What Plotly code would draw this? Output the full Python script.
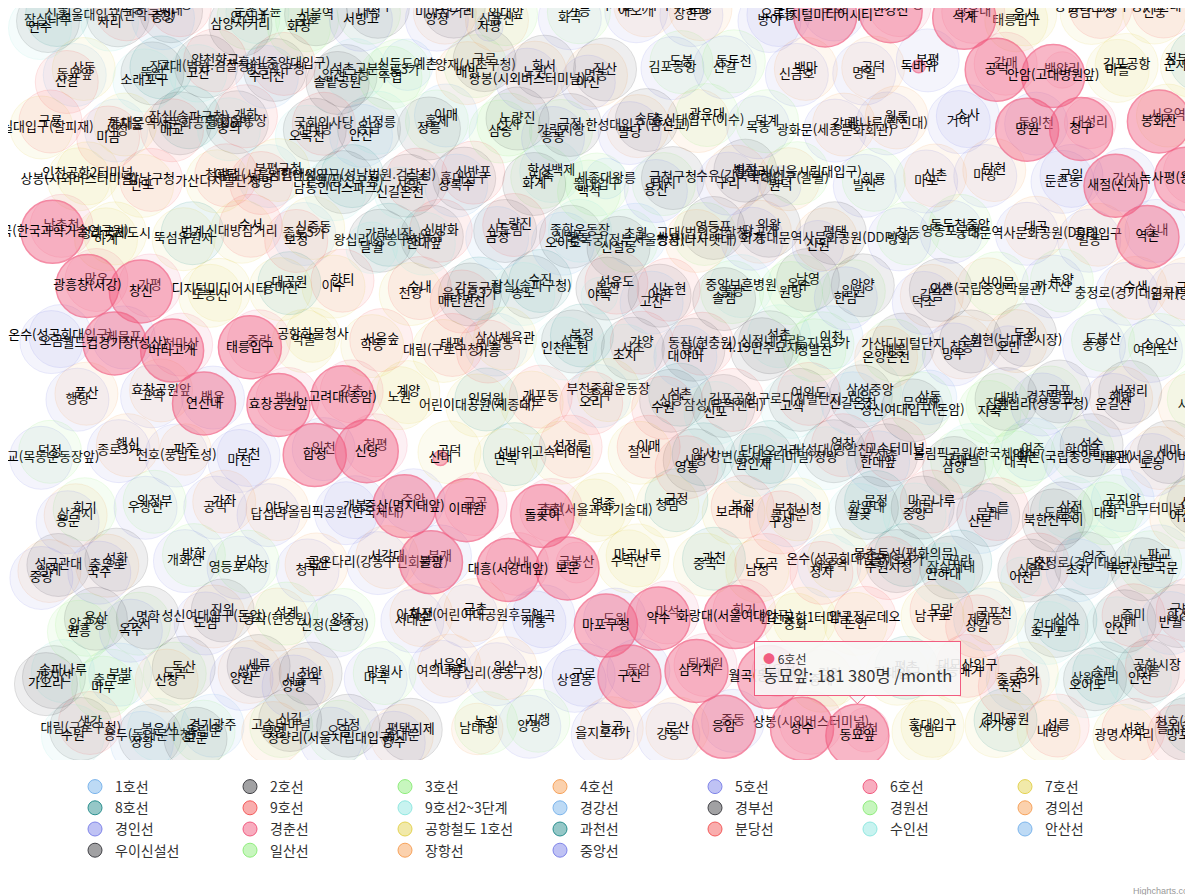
import math
import plotly.graph_objects as go

# monthly riders per station, in thousands of persons
L1 = [("서울역", 1580), ("시청", 690), ("종각", 1210), ("종로3가", 920), ("종로5가", 820), ("동대문", 410),
      ("동묘앞", 240), ("신설동", 470), ("제기동", 720), ("청량리(서울시립대입구)", 840)]
L2 = [("시청", 780), ("을지로입구", 1650), ("을지로3가", 980), ("을지로4가", 450), ("동대문역사문화공원(DDP)", 620),
      ("신당", 720), ("상왕십리", 520), ("왕십리(성동구청)", 930), ("한양대", 720), ("뚝섬", 630), ("성수", 1150),
      ("건대입구", 1580), ("구의(광진구청)", 860), ("강변(동서울터미널)", 1240), ("잠실나루", 520), ("잠실(송파구청)", 1920),
      ("잠실새내", 1120), ("종합운동장", 560), ("삼성(무역센터)", 1890), ("선릉", 1620), ("역삼", 1680), ("강남", 2780),
      ("교대(법원.검찰청)", 1210), ("서초", 880), ("방배", 780), ("사당", 1380), ("낙성대(강감찬)", 980),
      ("서울대입구(관악구청)", 1590), ("봉천", 860), ("신림", 1760), ("신대방", 610), ("구로디지털단지", 1490),
      ("대림(구로구청)", 620), ("신도림", 1320), ("문래", 560), ("영등포구청", 820), ("당산", 1050), ("합정", 1120),
      ("홍대입구", 2330), ("신촌", 1570), ("이대", 780), ("아현", 560), ("충정로(경기대입구)", 540), ("용답", 190),
      ("신답", 120), ("용두(동대문구청)", 290), ("신설동", 160), ("도림천", 110), ("양천구청", 330),
      ("신정네거리", 450), ("까치산", 380)]
L3 = [("지축", 95), ("구파발", 420), ("연신내", 680), ("불광", 520), ("녹번", 380), ("홍제", 620), ("무악재", 310),
      ("독립문", 390), ("경복궁(정부서울청사)", 620), ("안국", 690), ("종로3가", 560), ("을지로3가", 410), ("충무로", 480),
      ("동대입구", 320), ("약수", 260), ("금호", 250), ("옥수", 280), ("압구정", 880), ("신사", 980), ("잠원", 280),
      ("고속터미널", 1450), ("교대(법원.검찰청)", 640), ("남부터미널(예술의전당)", 830), ("양재(서초구청)", 1290),
      ("매봉", 480), ("도곡", 420), ("대치", 450), ("학여울", 180), ("대청", 300), ("일원", 330), ("수서", 760),
      ("가락시장", 380), ("경찰병원", 230), ("오금", 290)]
L4 = [("당고개", 300), ("상계", 380), ("노원", 820), ("창동", 560), ("쌍문", 700), ("수유(강북구청)", 1080),
      ("미아(서울사이버대학)", 620), ("미아사거리", 880), ("길음", 820), ("성신여대입구(돈암)", 980),
      ("한성대입구(삼선교)", 680), ("혜화", 1120), ("동대문", 420), ("동대문역사문화공원(DDP)", 390), ("충무로", 520),
      ("명동", 1180), ("회현(남대문시장)", 820), ("서울역", 640), ("숙대입구(갈월)", 520), ("삼각지", 240),
      ("신용산", 380), ("이촌(국립중앙박물관)", 280), ("동작(현충원)", 90), ("총신대입구(이수)", 760), ("사당", 880),
      ("남태령", 40)]
L5 = [("방화", 420), ("개화산", 350), ("김포공항", 320), ("송정", 380), ("마곡", 390), ("발산", 680), ("우장산", 520),
      ("화곡", 980), ("까치산", 640), ("신정(은행정)", 400), ("목동", 620), ("오목교(목동운동장앞)", 790), ("양평", 260),
      ("영등포구청", 420), ("영등포시장", 450), ("신길", 140), ("여의도", 1240), ("여의나루", 580), ("마포", 480),
      ("공덕", 560), ("애오개", 300), ("충정로(경기대입구)", 320), ("서대문", 560), ("광화문(세종문화회관)", 1320),
      ("종로3가", 380), ("을지로4가", 300), ("동대문역사문화공원(DDP)", 320), ("청구", 210), ("신금호", 290),
      ("행당", 330), ("왕십리(성동구청)", 520), ("마장", 230), ("답십리", 440), ("장한평", 480), ("군자(능동)", 320),
      ("아차산(어린이대공원후문)", 480), ("광나루(장신대)", 390), ("천호(풍납토성)", 760), ("강동", 500), ("길동", 370),
      ("굽은다리(강동구민회관앞)", 330), ("명일", 420), ("고덕", 450), ("상일동", 380), ("둔촌동", 230),
      ("올림픽공원(한국체대)", 300), ("방이", 380), ("오금", 220), ("개롱", 240), ("거여", 380), ("마천", 360)]
L6 = [("응암", 520), ("역촌", 240), ("불광", 280), ("독바위", 2.5), ("연신내", 330), ("구산", 230), ("새절(신사)", 220),
      ("증산(명지대앞)", 250), ("디지털미디어시티", 360), ("월드컵경기장(성산)", 320), ("마포구청", 300), ("망원", 490),
      ("합정", 470), ("상수", 420), ("광흥창(서강)", 290), ("대흥(서강대앞)", 270), ("공덕", 340), ("효창공원앞", 170),
      ("삼각지", 210), ("녹사평(용산구청)", 170), ("이태원", 480), ("한강진", 250), ("버티고개", 130), ("약수", 260),
      ("청구", 150), ("신당", 260), ("동묘앞", 181.38), ("창신", 230), ("보문", 170), ("안암(고대병원앞)", 390),
      ("고려대(종암)", 340), ("월곡(동덕여대)", 350), ("상월곡(한국과학기술연구원)", 220), ("돌곶이", 350),
      ("석계", 260), ("태릉입구", 210), ("화랑대(서울여대입구)", 240), ("봉화산", 280), ("신내", 3.2)]
L7 = [("장암", 60), ("도봉산", 310), ("수락산", 420), ("마들", 380), ("노원", 620), ("중계", 390), ("하계", 370),
      ("공릉(서울과학기술대)", 480), ("태릉입구", 270), ("먹골", 380), ("중화", 300), ("상봉(시외버스터미널)", 420),
      ("면목", 560), ("사가정", 380), ("용마산", 330), ("중곡", 360), ("군자(능동)", 450), ("어린이대공원(세종대)", 480),
      ("건대입구", 620), ("뚝섬유원지", 350), ("청담", 380), ("강남구청", 450), ("학동", 480), ("논현", 520),
      ("반포", 380), ("고속터미널", 980), ("내방", 360), ("이수", 580), ("남성", 420), ("숭실대입구(살피재)", 560),
      ("상도", 480), ("장승배기", 380), ("신대방삼거리", 420), ("보라매", 380), ("신풍", 300), ("대림(구로구청)", 320),
      ("남구로", 450), ("가산디지털단지", 1050), ("철산", 620), ("광명사거리", 560), ("천왕", 210),
      ("온수(성공회대입구)", 250), ("까치울", 130), ("부천종합운동장", 140), ("춘의", 220), ("신중동", 350),
      ("부천시청", 420), ("상동", 380), ("삼산체육관", 260), ("굴포천", 240), ("부평구청", 320)]
L8 = [("암사", 480), ("천호(풍납토성)", 520), ("강동구청", 360), ("몽촌토성(평화의문)", 230), ("잠실(송파구청)", 880),
      ("석촌", 380), ("송파", 410), ("가락시장", 290), ("문정", 390), ("장지", 420), ("복정", 180), ("산성", 250),
      ("남한산성입구(성남법원.검찰청)", 340), ("단대오거리", 420), ("신흥", 290), ("수진", 310), ("모란", 330)]
L9 = [("개화", 150), ("김포공항", 580), ("공항시장", 180), ("신방화", 240), ("마곡나루", 580), ("양천향교", 260),
      ("가양", 650), ("증미", 300), ("등촌", 350), ("염창", 420), ("신목동", 230), ("선유도", 350), ("당산", 480),
      ("국회의사당", 520), ("여의도", 880), ("샛강", 250), ("노량진", 620), ("노들", 150), ("흑석(중앙대입구)", 640),
      ("동작(현충원)", 150), ("구반포", 210), ("신반포", 260), ("고속터미널", 890), ("사평", 140), ("신논현", 920)]
L9B = [("언주", 380), ("선정릉", 420), ("삼성중앙", 450), ("봉은사", 520), ("종합운동장", 330), ("삼전", 240),
       ("석촌고분", 260), ("석촌", 420), ("송파나루", 280), ("한성백제", 270), ("올림픽공원(한국체대)", 320),
       ("둔촌오륜", 180), ("중앙보훈병원", 250)]
GYEONGGANG = [("판교", 380), ("이매", 220), ("삼동", 45), ("경기광주", 210), ("초월", 90), ("곤지암", 80),
              ("신둔도예촌", 40), ("이천", 110), ("부발", 70), ("세종대왕릉", 25), ("여주", 80)]
GYEONGBU = [("서울역", 520), ("남영", 230), ("용산", 890), ("노량진", 560), ("대방", 420), ("신길", 170), ("영등포", 1380),
            ("신도림", 780), ("구로", 620), ("가산디지털단지", 540), ("독산", 380), ("금천구청", 510), ("석수", 390),
            ("관악", 290), ("안양", 1020), ("명학", 380), ("금정", 420), ("군포", 450), ("당정", 230), ("의왕", 240),
            ("성균관대", 580), ("화서", 420), ("수원", 1250), ("세류", 280), ("병점", 520), ("세마", 220), ("오산대", 190),
            ("오산", 450), ("진위", 120), ("송탄", 310), ("서정리", 240), ("평택지제", 220), ("평택", 620), ("성환", 220),
            ("직산", 90), ("두정", 310), ("천안", 520)]
GYEONGWON = [("청량리(서울시립대입구)", 620), ("회기", 560), ("외대앞", 420), ("신이문", 260), ("석계", 480),
             ("광운대", 380), ("월계", 150), ("녹천", 230), ("창동", 520), ("방학", 400), ("도봉", 250), ("도봉산", 300),
             ("망월사", 320), ("회룡", 350), ("의정부", 880), ("가능", 250), ("녹양", 220), ("양주", 230), ("덕계", 140),
             ("덕정", 220), ("지행", 310), ("동두천중앙", 180), ("보산", 80), ("동두천", 70), ("소요산", 90)]
GYEONGUI = [("서울역", 90), ("신촌", 65), ("가좌", 220), ("디지털미디어시티", 420), ("수색", 210), ("화전", 80),
            ("강매", 60), ("행신", 380), ("능곡", 180), ("대곡", 230), ("곡산", 70), ("백마", 240), ("풍산", 250),
            ("일산", 350), ("탄현", 260), ("야당", 310), ("운정", 320), ("금릉", 210), ("금촌", 380), ("월롱", 60),
            ("파주", 40), ("문산", 270), ("홍대입구", 520), ("서강대", 110), ("공덕", 200), ("효창공원앞", 70)]
GYEONGIN = [("구로", 310), ("구일", 220), ("개봉", 560), ("오류동", 440), ("온수(성공회대입구)", 330), ("역곡", 720),
            ("소사", 250), ("부천", 1080), ("중동", 480), ("송내", 850), ("부개", 380), ("부평", 1250), ("백운", 390),
            ("동암", 620), ("간석", 360), ("주안", 810), ("도화", 250), ("제물포", 380), ("도원", 210), ("동인천", 480),
            ("인천", 320)]
GYEONGCHUN = [("상봉(시외버스터미널)", 180), ("망우", 220), ("신내", 130), ("갈매", 150), ("별내", 230), ("퇴계원", 170),
              ("사릉", 140), ("금곡", 190), ("평내호평", 380), ("천마산", 150), ("마석", 260), ("대성리", 40),
              ("청평", 110), ("상천", 30), ("가평", 120), ("굴봉산", 25), ("백양리", 20), ("강촌", 60), ("김유정", 40),
              ("남춘천", 220), ("춘천", 280), ("광운대", 120), ("중랑", 110), ("회기", 90)]
AIRPORT = [("서울역", 720), ("공덕", 380), ("홍대입구", 690), ("디지털미디어시티", 420), ("마곡나루", 320),
           ("김포공항", 480), ("계양", 260), ("검암", 350), ("청라국제도시", 280), ("영종", 120), ("운서", 180),
           ("공항화물청사", 45), ("인천공항1터미널", 620), ("인천공항2터미널", 280)]
GWACHEON = [("선바위", 180), ("경마공원", 150), ("대공원", 140), ("과천", 260), ("정부과천청사", 390), ("인덕원", 620),
            ("평촌", 580), ("범계", 880), ("금정", 350)]
BUNDANG = [("왕십리(성동구청)", 480), ("서울숲", 390), ("압구정로데오", 420), ("강남구청", 380), ("선정릉", 350),
           ("선릉", 520), ("한티", 420), ("도곡", 380), ("구룡", 180), ("개포동", 210), ("대모산입구", 220), ("수서", 390),
           ("복정", 320), ("가천대", 350), ("태평", 380), ("모란", 520), ("야탑", 780), ("이매", 330), ("서현", 820),
           ("수내", 520), ("정자", 680), ("미금", 520), ("오리", 420), ("죽전", 680), ("보정", 250), ("구성", 280),
           ("신갈", 210), ("기흥", 380), ("상갈", 220), ("청명", 280), ("영통", 520), ("망포", 420), ("매탄권선", 290),
           ("수원시청", 450), ("매교", 250), ("수원", 620)]
SUIN = [("오이도", 280), ("달월", 40), ("월곶", 150), ("소래포구", 210), ("인천논현", 310), ("호구포", 160),
        ("남동인더스파크", 180), ("원인재", 220), ("연수", 280), ("송도", 230), ("인하대", 380), ("숭의", 150),
        ("신포", 190), ("인천", 120), ("한대앞", 60), ("중앙", 80), ("고잔", 50), ("초지", 90), ("안산", 110),
        ("신길온천", 40), ("정왕", 90), ("사리", 50), ("야목", 20), ("어천", 25), ("오목천", 80), ("고색", 110),
        ("수원", 380)]
ANSAN = [("금정", 380), ("산본", 820), ("수리산", 320), ("대야미", 150), ("반월", 170), ("상록수", 480), ("한대앞", 420),
         ("중앙", 720), ("고잔", 380), ("초지", 250), ("안산", 520), ("신길온천", 160), ("정왕", 420), ("오이도", 150)]
UI_SINSEOL = [("북한산우이", 180), ("솔밭공원", 150), ("4.19민주묘지", 130), ("가오리", 140), ("화계", 160), ("삼양", 120),
              ("삼양사거리", 180), ("솔샘", 150), ("북한산보국문", 170), ("정릉", 200), ("성신여대입구(돈암)", 280),
              ("보문", 120), ("신설동", 140)]
ILSAN = [("대화", 420), ("주엽", 480), ("정발산", 450), ("마두", 520), ("백석", 480), ("대곡", 180), ("화정", 820),
         ("원당", 360), ("원흥", 240), ("삼송", 420), ("지축", 60)]
JANGHANG = [("봉명", 90), ("쌍용(나사렛대)", 150), ("아산", 180), ("배방", 120), ("온양온천", 280), ("신창", 130)]
JUNGANG = [("용산", 320), ("이촌(국립중앙박물관)", 180), ("서빙고", 80), ("한남", 150), ("옥수", 120), ("응봉", 90),
           ("왕십리(성동구청)", 420), ("청량리(서울시립대입구)", 380), ("회기", 320), ("중랑", 160),
           ("상봉(시외버스터미널)", 280), ("망우", 190), ("양원", 90), ("구리", 420), ("도농", 450), ("양정", 90),
           ("덕소", 380), ("도심", 180), ("팔당", 60), ("운길산", 70), ("양수", 90), ("신원", 40), ("국수", 60),
           ("아신", 45), ("오빈", 30), ("양평", 220), ("원덕", 25), ("용문", 150), ("지평", 12)]

LINE_NAMES = ["1호선", "2호선", "3호선", "4호선", "5호선", "6호선", "7호선", "8호선", "9호선", "9호선2~3단계",
              "경강선", "경부선", "경원선", "경의선", "경인선", "경춘선", "공항철도 1호선", "과천선", "분당선", "수인선",
              "안산선", "우이신설선", "일산선", "장항선", "중앙선"]
LINE_STATIONS = [L1, L2, L3, L4, L5, L6, L7, L8, L9, L9B, GYEONGGANG, GYEONGBU, GYEONGWON, GYEONGUI, GYEONGIN,
                 GYEONGCHUN, AIRPORT, GWACHEON, BUNDANG, SUIN, ANSAN, UI_SINSEOL, ILSAN, JANGHANG, JUNGANG]
HOVER_LINE = "6호선"
HOVER_STATION = "동묘앞"

PALETTE = ["#7cb5ec", "#434348", "#90ed7d", "#f7a35c", "#8085e9",
           "#f15c80", "#e4d354", "#2b908f", "#f45b5b", "#91e8e1"]
FONT = "Noto Sans CJK KR, Noto Sans, sans-serif"
W, H = 1193, 752          # plot area in px; axes run 1:1 with pixels


def rgba(hex_c, a):
    h = hex_c.lstrip("#")
    return "rgba(%d,%d,%d,%.2f)" % (int(h[0:2], 16), int(h[2:4], 16), int(h[4:6], 16), a)


# packed-bubble style layout: hex grid, bubbles spread over cells, extra ones stacked
COLS, ROWS, DX, DY = 18, 14, 65, 55
STEP, PHASE = 97, 192
cells = [(40 + c * DX + (DX / 2 if r % 2 else 0), 8 + r * DY) for r in range(ROWS) for c in range(COLS)]
SHIFT = [(0, 0), (9, -6), (-8, 7)]
positions = []
k = 0
for pts in LINE_STATIONS:
    row = []
    for _ in pts:
        ci = (k * STEP + PHASE) % len(cells)
        sx, sy = SHIFT[(k // len(cells)) % 3]
        cx, cy = cells[ci]
        row.append((cx + sx + 7 * math.sin(ci * 2.39), cy + sy + 5 * math.cos(ci * 1.71)))
        k += 1
    positions.append(row)


def diam(v):
    return max(8, min(63, 63 * math.sqrt(v / 60.0)))


fig = go.Figure()
order = [i for i, n in enumerate(LINE_NAMES) if n != HOVER_LINE] + [LINE_NAMES.index(HOVER_LINE)]
for i in order:
    col = PALETTE[i % 10]
    active = LINE_NAMES[i] == HOVER_LINE
    pts = LINE_STATIONS[i]
    fig.add_trace(go.Scatter(
        x=[p[0] for p in positions[i]], y=[p[1] for p in positions[i]],
        mode="markers+text", showlegend=False, hoverinfo="skip",
        text=[s for s, _ in pts], textposition="middle center",
        textfont=dict(family=FONT, size=13, color="#000000"),
        marker=dict(size=[diam(v) for _, v in pts], sizemode="diameter",
                    color=rgba(col, 0.62 if active else 0.12),
                    line=dict(color=rgba(col, 1.0 if active else 0.22), width=1.5 if active else 1)),
    ))

# legend entries
for i, n in enumerate(LINE_NAMES):
    col = PALETTE[i % 10]
    fig.add_trace(go.Scatter(x=[None], y=[None], mode="markers", name=n,
                             marker=dict(size=14, color=rgba(col, 0.5), line=dict(color=col, width=1))))

# static tooltip of the hovered point
hi = LINE_NAMES.index(HOVER_LINE)
hj = [s for s, _ in LINE_STATIONS[hi]].index(HOVER_STATION)
bx, by = positions[hi][hj]
hv = LINE_STATIONS[hi][hj][1]
hcol = PALETTE[hi % 10]
val_txt = "{:,}".format(int(round(hv * 1000))).replace(",", " ")
tip = ("<span style='color:%s;font-size:12px'>●</span><span style='font-size:12px'> %s</span><br>"
       "<span style='font-size:16.5px'>%s: %s명 /month</span>") % (hcol, HOVER_LINE, HOVER_STATION, val_txt)
tip_y = by - 40
tip_x = min(max(bx, 112), W - 112)
fig.add_annotation(x=tip_x, y=tip_y, xref="x", yref="y", text=tip, showarrow=False, align="left",
                   xanchor="center", yanchor="bottom", bgcolor="rgba(247,247,247,0.9)",
                   bordercolor=hcol, borderwidth=1, borderpad=8,
                   font=dict(family=FONT, size=14, color="#333333"))
fig.add_shape(type="path", xref="x", yref="y",
              path="M %.1f %.1f L %.1f %.1f L %.1f %.1f Z" % (bx - 8, tip_y - 0.5, bx + 8, tip_y - 0.5, bx, tip_y + 8),
              fillcolor="rgba(247,247,247,1)", line=dict(width=0), layer="above")
fig.add_shape(type="path", xref="x", yref="y",
              path="M %.1f %.1f L %.1f %.1f L %.1f %.1f" % (bx - 8, tip_y, bx, tip_y + 8, bx + 8, tip_y),
              fillcolor="rgba(0,0,0,0)", line=dict(width=1, color=hcol), layer="above")

fig.add_annotation(x=1123 / W, y=-(883 - H) / H, xref="paper", yref="paper", xanchor="left", yanchor="middle",
                   text="Highcharts.com", showarrow=False, font=dict(family="Liberation Sans", size=9, color="#999999"))

fig.update_xaxes(range=[0, W], visible=False, fixedrange=True)
fig.update_yaxes(range=[H, 0], visible=False, fixedrange=True)
fig.update_layout(
    width=1193, height=895, margin=dict(l=0, r=0, t=0, b=895 - H),
    paper_bgcolor="white", plot_bgcolor="white", hovermode=False,
    legend=dict(orientation="h", x=67 / W, xanchor="left", y=-(763 - H) / H, yanchor="top",
                entrywidth=110, itemsizing="trace",
                font=dict(family=FONT, size=14, color="#333333")),
)

fig.write_html("out.html")
